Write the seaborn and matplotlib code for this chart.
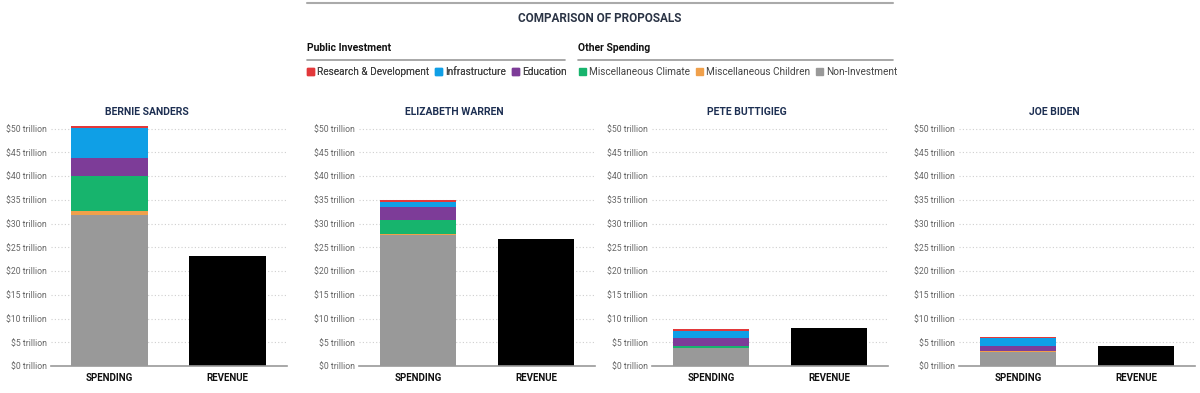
import matplotlib
matplotlib.use("Agg")
import matplotlib.pyplot as plt
from matplotlib.patches import Patch
from matplotlib.lines import Line2D
from matplotlib.ticker import FuncFormatter
import seaborn as sns
import pandas as pd

# ---------------- data ----------------
candidates = ["BERNIE SANDERS", "ELIZABETH WARREN", "PETE BUTTIGIEG", "JOE BIDEN"]
bar_categories = ["SPENDING", "REVENUE"]
layers_bottom_to_top = ["Non-Investment", "Miscellaneous Children", "Miscellaneous Climate",
                        "Education", "Infrastructure", "Research & Development"]
non_investment = [31.8, 27.5, 3.7, 2.95]
misc_children = [0.8, 0.3, 0.15, 0.2]
misc_climate = [7.3, 2.95, 0.35, 0.05]
education = [3.9, 2.8, 1.6, 1.05]
infrastructure = [6.3, 1.05, 1.6, 1.6]
research_dev = [0.4, 0.35, 0.35, 0.35]
revenue = [23.1, 26.7, 8.0, 4.3]
ytick_values = [0, 5, 10, 15, 20, 25, 30, 35, 40, 45, 50]

public_investment_labels = ["Research & Development", "Infrastructure", "Education"]
other_spending_labels = ["Miscellaneous Climate", "Miscellaneous Children", "Non-Investment"]

colors = {
    "Research & Development": "#e2383a",
    "Infrastructure": "#0f9fe6",
    "Education": "#7d3c98",
    "Miscellaneous Climate": "#17b46d",
    "Miscellaneous Children": "#f0a04b",
    "Non-Investment": "#999999",
}
layer_values = {
    "Non-Investment": non_investment,
    "Miscellaneous Children": misc_children,
    "Miscellaneous Climate": misc_climate,
    "Education": education,
    "Infrastructure": infrastructure,
    "Research & Development": research_dev,
}

# ---------------- style ----------------
sns.set_theme(style="white")
plt.rcParams["font.family"] = ["Roboto", "DejaVu Sans"]
cond = ["Roboto", "DejaVu Sans"]
navy = "#1d2f52"

W, H = 1200, 393
fig = plt.figure(figsize=(W / 100, H / 100), dpi=100)

ax_lefts = [50.7, 359, 652, 959]
title_centers = [147, 454, 747, 1054]
ax_w = 236
y0_px, ytop_px = 366, 121.4

for i, cand in enumerate(candidates):
    ax = fig.add_axes([ax_lefts[i] / W, (H - y0_px) / H, ax_w / W, (y0_px - ytop_px) / H])
    # stacked spending: draw cumulative totals from the top layer down
    cum = 0
    cums = []
    for layer in layers_bottom_to_top:
        cum += layer_values[layer][i]
        cums.append((layer, cum))
    for layer, total in reversed(cums):
        df = pd.DataFrame({"cat": ["SPENDING"], "val": [total]})
        sns.barplot(data=df, x="cat", y="val", order=bar_categories, color=colors[layer],
                    saturation=1, width=0.65, errorbar=None, ax=ax, linewidth=0)
    dfr = pd.DataFrame({"cat": ["REVENUE"], "val": [revenue[i]]})
    sns.barplot(data=dfr, x="cat", y="val", order=bar_categories, color="black",
                saturation=1, width=0.65, errorbar=None, ax=ax, linewidth=0)

    ax.set_xlim(-0.5, 1.5)
    ax.set_ylim(0, 51.5)
    ax.set_yticks(ytick_values)
    ax.yaxis.set_major_formatter(FuncFormatter(lambda v, p: f"${v:.0f} trillion"))
    ax.set_xlabel("")
    ax.set_ylabel("")
    ax.set_axisbelow(True)
    ax.yaxis.grid(True, linestyle=(0, (1, 2)), color="#cfcfcf", linewidth=0.8)
    ax.xaxis.grid(False)
    for s in ["top", "right", "left"]:
        ax.spines[s].set_visible(False)
    ax.spines["bottom"].set_color("#9a9a9a")
    ax.spines["bottom"].set_linewidth(1.2)
    ax.tick_params(axis="y", length=0, pad=3, labelsize=6.2, labelcolor="#666666")
    ax.tick_params(axis="x", length=0, pad=5)
    for lab in ax.get_xticklabels():
        lab.set_fontfamily(cond)
        lab.set_fontweight("bold")
        lab.set_fontsize(7)
        lab.set_color("#111111")
    fig.text(title_centers[i] / W, 1 - 112 / H, cand, ha="center", va="center",
             fontsize=7.5, fontweight="bold", color=navy, family=cond)

# ---------------- header / legend ----------------
fig.add_artist(Line2D([307 / W, 893 / W], [1 - 3 / H, 1 - 3 / H], color="#aaaaaa", lw=1.5))
fig.text(600 / W, 1 - 18 / H, "COMPARISON OF PROPOSALS", ha="center", va="center",
         fontsize=8.5, fontweight="bold", color="#2b3445", family=cond)
fig.text(307 / W, 1 - 48 / H, "Public Investment", ha="left", va="center",
         fontsize=7.5, fontweight="bold", color="#111111")
fig.text(578 / W, 1 - 48 / H, "Other Spending", ha="left", va="center",
         fontsize=7.5, fontweight="bold", color="#111111")
fig.add_artist(Line2D([307 / W, 565 / W], [1 - 60 / H, 1 - 60 / H], color="#999999", lw=1.2))
fig.add_artist(Line2D([578 / W, 893 / W], [1 - 60 / H, 1 - 60 / H], color="#999999", lw=1.2))

leg_kw = dict(ncol=3, frameon=False, handlelength=0.7, handleheight=0.7,
              handletextpad=0.3, columnspacing=0.6, borderpad=0, borderaxespad=0,
              fontsize=7.2, labelcolor="#444444", loc="center left")
h1 = [Patch(color=colors[l]) for l in public_investment_labels]
h2 = [Patch(color=colors[l]) for l in other_spending_labels]
lg1 = fig.legend(h1, public_investment_labels, bbox_to_anchor=(307 / W, 1 - 72 / H), **leg_kw)
fig.add_artist(lg1)
fig.legend(h2, other_spending_labels, bbox_to_anchor=(579 / W, 1 - 72 / H), **leg_kw)

fig.savefig("out.png", dpi=100, facecolor="white")
